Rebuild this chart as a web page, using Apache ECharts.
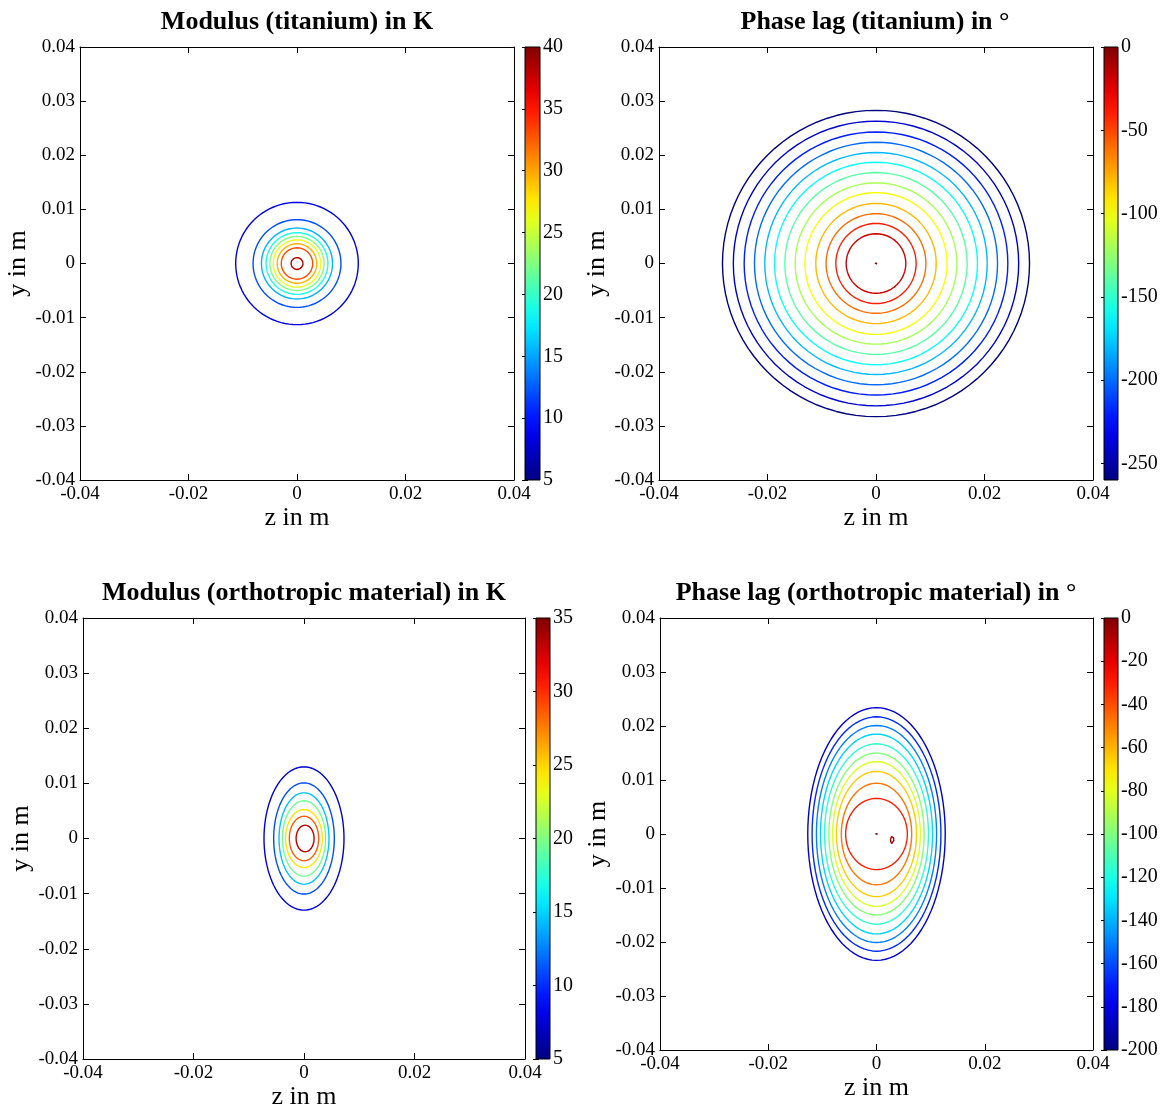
<!DOCTYPE html>
<html>
<head>
<meta charset="utf-8">
<script src="https://cdn.jsdelivr.net/npm/echarts@6/dist/echarts.min.js"></script>
<style>html,body{margin:0;padding:0;background:#fff}#c{width:1164px;height:1113px}</style>
</head>
<body>
<div id="c"></div>
<script>
// ---- Data ----
const titles = ['Modulus (titanium) in K', 'Phase lag (titanium) in \u00b0',
                'Modulus (orthotropic material) in K', 'Phase lag (orthotropic material) in \u00b0'];
const xTicks = [-0.04, -0.02, 0, 0.02, 0.04];
const yTicks = [-0.04, -0.03, -0.02, -0.01, 0, 0.01, 0.02, 0.03, 0.04];

// Panel 1: modulus titanium (circles)
const p1Range = [5, 40];
const p1Ticks = [5, 10, 15, 20, 25, 30, 35, 40];
const p1Levels = [8.5, 12, 15.5, 19, 22.5, 26, 29.5, 33, 38];
const p1SemiZ = [0.0113, 0.0081, 0.00655, 0.0057, 0.0050, 0.00437, 0.00365, 0.0029, 0.0011];
const p1SemiY = [0.0113, 0.0081, 0.00655, 0.0057, 0.0050, 0.00437, 0.00365, 0.0029, 0.0011];
const p1CenterZ = [0, 0, 0, 0, 0, 0, 0, 0, 0];
const p1CenterY = [0, 0, 0, 0, 0, 0, 0, 0, 0];

// Panel 2: phase titanium (circles)
const p2Range = [-260, 0];
const p2Ticks = [-250, -200, -150, -100, -50, 0];
const p2Levels = [-260, -240, -220, -200, -180, -160, -140, -120, -100, -80, -60, -40, -20, -2];
const p2SemiZ = [0.0283, 0.0263, 0.0243, 0.0224, 0.0205, 0.0187, 0.0168, 0.0149, 0.0131, 0.0111, 0.0092, 0.0074, 0.0055, 0.0002];
const p2SemiY = [0.0283, 0.0263, 0.0243, 0.0224, 0.0205, 0.0187, 0.0168, 0.0149, 0.0131, 0.0111, 0.0092, 0.0074, 0.0055, 0.0002];
const p2CenterZ = [0, 0, 0, 0, 0, 0, 0, 0, 0, 0, 0, 0, 0, 0];
const p2CenterY = [0, 0, 0, 0, 0, 0, 0, 0, 0, 0, 0, 0, 0, 0];

// Panel 3: modulus orthotropic (ellipses)
const p3Range = [5, 35];
const p3Ticks = [5, 10, 15, 20, 25, 30, 35];
const p3Levels = [7.5, 11, 14.5, 19.5, 24.5, 28.5, 33];
const p3SemiZ = [0.00724, 0.00549, 0.00452, 0.0039, 0.00332, 0.00266, 0.00163];
const p3SemiY = [0.0130, 0.0101, 0.0083, 0.00684, 0.00526, 0.00405, 0.00242];
const p3CenterZ = [0, 0, 0, 0, 0, 0, 0.0002];
const p3CenterY = [0, 0, 0, 0, 0, 0, 0];

// Panel 4: phase orthotropic (ellipses)
const p4Range = [-200, 0];
const p4Ticks = [-200, -180, -160, -140, -120, -100, -80, -60, -40, -20, 0];
const p4Levels = [-184, -167, -150, -133, -116, -99, -82, -65, -48, -31, -8, -2];
const p4SemiZ = [0.0127, 0.0119, 0.0111, 0.01035, 0.0096, 0.0088, 0.0081, 0.0074, 0.0065, 0.0057, 0.0003, 0.0002];
const p4SemiY = [0.0234, 0.0217, 0.0201, 0.0185, 0.0167, 0.0150, 0.0134, 0.0116, 0.0094, 0.0066, 0.0007, 0.0002];
const p4CenterZ = [0, 0, 0, 0, 0, 0, 0, 0, 0, 0, 0.0029, 0];
const p4CenterY = [0, 0, 0, 0, 0, 0, 0, 0, 0, 0, -0.0011, 0];

// ---- Helpers ----
function jet(t) {
  t = Math.max(0, Math.min(1, t));
  const c = v => Math.round(255 * Math.max(0, Math.min(1, v)));
  return 'rgb(' + c(1.5 - Math.abs(4 * t - 3)) + ',' + c(1.5 - Math.abs(4 * t - 2)) + ',' + c(1.5 - Math.abs(4 * t - 1)) + ')';
}
function ring(cz, cy, a, b) {
  const pts = [];
  const n = 96;
  for (let i = 0; i <= n; i++) {
    const th = 2 * Math.PI * i / n;
    pts.push([cz + a * Math.cos(th), cy + b * Math.sin(th)]);
  }
  return pts;
}
const fmt = v => { const r = Math.round(v * 100) / 100; return r === 0 ? '0' : String(r); };

const FONT = 'Liberation Serif';
const panels = [
  {grid: [80, 47, 434, 433], cb: [525, 47, 15, 433], range: p1Range, ticks: p1Ticks, lv: p1Levels, a: p1SemiZ, b: p1SemiY, cz: p1CenterZ, cy: p1CenterY, title: [297, 21], xname: 23, yname: 45},
  {grid: [659, 47, 434, 433], cb: [1104, 47, 14, 433], range: p2Range, ticks: p2Ticks, lv: p2Levels, a: p2SemiZ, b: p2SemiY, cz: p2CenterZ, cy: p2CenterY, title: [875, 21], xname: 23, yname: 48},
  {grid: [83, 618, 442, 441], cb: [536, 618, 14, 441], range: p3Range, ticks: p3Ticks, lv: p3Levels, a: p3SemiZ, b: p3SemiY, cz: p3CenterZ, cy: p3CenterY, title: [304, 592], xname: 25, yname: 46},
  {grid: [660, 618, 433, 432], cb: [1104, 618, 14, 432], range: p4Range, ticks: p4Ticks, lv: p4Levels, a: p4SemiZ, b: p4SemiY, cz: p4CenterZ, cy: p4CenterY, title: [876, 592], xname: 24, yname: 46}
];

const grid = [], xAxis = [], yAxis = [], series = [], graphic = [];
const black = {color: '#000', width: 1};
const lbl = {color: '#000', fontFamily: FONT, fontSize: 19};

panels.forEach((p, i) => {
  const gi = grid.length;
  grid.push({left: p.grid[0], top: p.grid[1], width: p.grid[2], height: p.grid[3], containLabel: false, outerBoundsMode: 'none'});
  const xi = xAxis.length;
  xAxis.push({gridIndex: gi, type: 'value', position: 'bottom', min: -0.04, max: 0.04, interval: 0.02,
    axisLine: {onZero: false, lineStyle: black}, axisTick: {inside: true, length: 6, lineStyle: black},
    axisLabel: Object.assign({margin: 5, formatter: fmt}, lbl), splitLine: {show: false},
    name: 'z in m', nameLocation: 'middle', nameGap: p.xname, nameTextStyle: {color: '#000', fontFamily: FONT, fontSize: 26}});
  xAxis.push({gridIndex: gi, type: 'value', position: 'top', min: -0.04, max: 0.04, interval: 0.02,
    axisLine: {onZero: false, lineStyle: black}, axisTick: {inside: true, length: 6, lineStyle: black},
    axisLabel: {show: false}, splitLine: {show: false}});
  const yi = yAxis.length;
  yAxis.push({gridIndex: gi, type: 'value', position: 'left', min: -0.04, max: 0.04, interval: 0.01,
    axisLine: {onZero: false, lineStyle: black}, axisTick: {inside: true, length: 6, lineStyle: black},
    axisLabel: Object.assign({margin: 5, formatter: fmt}, lbl), splitLine: {show: false},
    name: 'y in m', nameLocation: 'middle', nameGap: p.yname, nameTextStyle: {color: '#000', fontFamily: FONT, fontSize: 26}});
  yAxis.push({gridIndex: gi, type: 'value', position: 'right', min: -0.04, max: 0.04, interval: 0.01,
    axisLine: {onZero: false, lineStyle: black}, axisTick: {inside: true, length: 6, lineStyle: black},
    axisLabel: {show: false}, splitLine: {show: false}});

  const [mn, mx] = p.range;
  p.lv.forEach((lv, k) => {
    series.push({type: 'line', xAxisIndex: xi, yAxisIndex: yi, data: ring(p.cz[k], p.cy[k], p.a[k], p.b[k]),
      showSymbol: false, symbol: 'none', silent: true, animation: false,
      lineStyle: {color: jet((lv - mn) / (mx - mn)), width: 1.4}});
  });

  // colorbar
  const cg = grid.length;
  grid.push({left: p.cb[0], top: p.cb[1], width: p.cb[2], height: p.cb[3], outerBoundsMode: 'none'});
  const cxi = xAxis.length;
  xAxis.push({gridIndex: cg, type: 'value', min: 0, max: 1, show: false});
  const cyi = yAxis.length;
  yAxis.push({gridIndex: cg, type: 'value', position: 'right', min: mn, max: mx,
    axisLine: {show: false}, axisTick: {inside: true, length: 3, customValues: p.ticks, lineStyle: {color: '#000', type: [3, 1]}},
    axisLabel: Object.assign({margin: 3, customValues: p.ticks, showMinLabel: true, showMaxLabel: true}, lbl, {fontSize: 20}),
    splitLine: {show: false}});
  yAxis.push({gridIndex: cg, type: 'value', position: 'left', min: mn, max: mx,
    axisLine: {show: false}, axisTick: {inside: true, length: 3, customValues: p.ticks, lineStyle: {color: '#000'}},
    axisLabel: {show: false}, splitLine: {show: false}});
  const stops = [];
  for (let s = 0; s <= 20; s++) stops.push({offset: s / 20, color: jet(1 - s / 20)});
  series.push({type: 'custom', xAxisIndex: cxi, yAxisIndex: cyi, data: [[0, mn, mx]], silent: true, animation: false, z: 1,
    renderItem: (params, api) => {
      const p0 = api.coord([0, api.value(2)]);
      const p1 = api.coord([1, api.value(1)]);
      return {type: 'rect', shape: {x: p0[0], y: p0[1], width: p1[0] - p0[0], height: p1[1] - p0[1]},
        style: {fill: new echarts.graphic.LinearGradient(0, 0, 0, 1, stops), stroke: '#000', lineWidth: 1}};
    }});

  graphic.push({type: 'text', x: p.title[0], y: p.title[1] + 1,
    style: {text: titles[i], fill: '#000', font: 'bold 26px "Liberation Serif"', align: 'center', verticalAlign: 'middle'}});
});

const chart = echarts.init(document.getElementById('c'), null, {renderer: 'canvas'});
chart.setOption({animation: false, backgroundColor: '#fff', grid, xAxis, yAxis, series, graphic});
</script>
</body>
</html>
